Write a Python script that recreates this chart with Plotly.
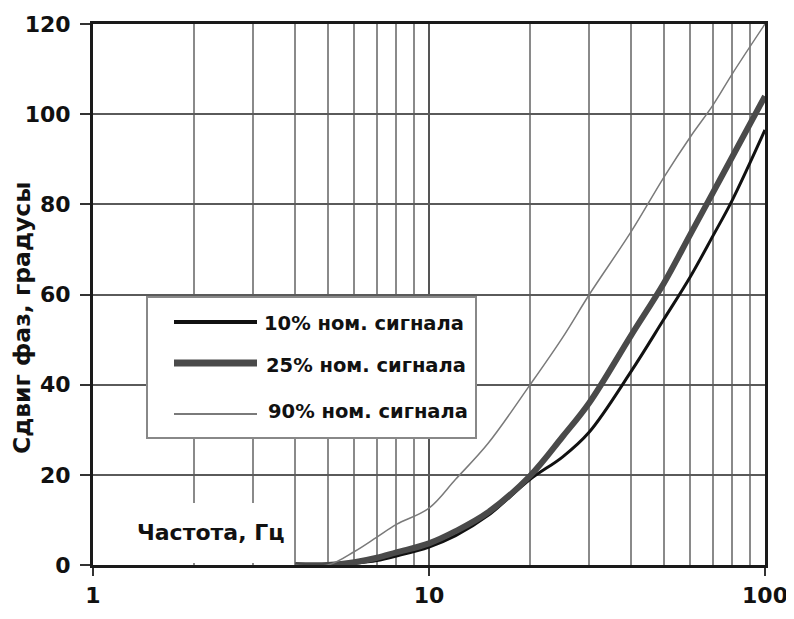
import plotly.graph_objects as go

# Data
freq = [4, 5, 6, 7, 8, 10, 12, 15, 20, 25, 30, 40, 50, 60, 70, 80, 100]
p10 = [0, 0, 0.4, 1.0, 2.0, 4.0, 6.5, 11, 19, 24, 29.5, 43, 54.5, 64, 73, 81, 96.5]
p25 = [0, 0, 0.6, 1.6, 2.8, 4.8, 7.5, 11.7, 19.8, 28.5, 36, 51, 62.5, 73.4, 82.6, 90.6, 104]
p90 = [0, 0, 3, 6.2, 9, 12.6, 19, 27, 40, 50.5, 60, 74, 86, 95, 102, 109, 120]

series_names = ["10% ном. сигнала", "25% ном. сигнала", "90% ном. сигнала"]
x_tickvals = [1, 10, 100]
x_ticktext = ["1", "10", "100"]
x_minor = [2, 3, 4, 5, 6, 7, 8, 9, 20, 30, 40, 50, 60, 70, 80, 90]
y_tickvals = [0, 20, 40, 60, 80, 100, 120]
x_title = "Частота, Гц"
y_title = "Сдвиг фаз, градусы"

FONT = "DejaVu Sans"
styles = [
    dict(color="#111111", width=3),
    dict(color="#4a4a4a", width=6),
    dict(color="#7a7a7a", width=1.5),
]
legend_widths = [4, 7, 2]

fig = go.Figure()
for name, vals, st in zip(series_names, [p10, p25, p90], styles):
    fig.add_trace(go.Scatter(x=freq, y=vals, mode="lines", name=name,
                             line=dict(color=st["color"], width=st["width"], shape="spline"),
                             showlegend=False))

# page body has an 8px margin: compensate so the plot lands where the reference has it
OFF = 8
W, H = 786, 603
L, T = 93 - OFF, 24 - OFF
R, B = W - (765 - OFF), H - (565 - OFF)
pw, ph = W - L - R, H - T - B


def px(xs):
    return (xs - OFF - L) / pw


def py(ys):
    return (H - B - (ys - OFF)) / ph


shapes = []
# white area under legend (where the axis title sits)
shapes.append(dict(type="rect", xref="paper", yref="paper", x0=px(96), x1=px(293),
                   y0=py(563), y1=py(503), fillcolor="white", line=dict(width=0), layer="above"))
# legend box
shapes.append(dict(type="rect", xref="paper", yref="paper", x0=px(147), x1=px(476),
                   y0=py(438), y1=py(297), fillcolor="white",
                   line=dict(color="#888888", width=2), layer="above"))
sample_y = [322, 363, 414]
text_y = [323, 365, 411]
text_x = [262, 264, 266]
annotations = []
for i, name in enumerate(series_names):
    st = styles[i]
    shapes.append(dict(type="line", xref="paper", yref="paper", x0=px(174), x1=px(257),
                       y0=py(sample_y[i]), y1=py(sample_y[i]),
                       line=dict(color=st["color"], width=legend_widths[i]),
                       layer="above"))
    annotations.append(dict(xref="paper", yref="paper", x=px(text_x[i]), y=py(text_y[i]),
                            text=name, showarrow=False, xanchor="left", yanchor="middle",
                            font=dict(family=FONT, size=19.5, color="#111111", weight="bold")))

annotations.append(dict(xref="paper", yref="paper", x=px(210), y=py(532), text=x_title,
                        showarrow=False, xanchor="center", yanchor="middle",
                        font=dict(family=FONT, size=22, color="#111111", weight="bold")))
annotations.append(dict(xref="paper", yref="paper", x=px(22), y=py(318), text=y_title,
                        showarrow=False, xanchor="center", yanchor="middle", textangle=-90,
                        font=dict(family=FONT, size=23.5, color="#111111", weight="bold")))

fig.update_layout(
    width=W, height=H,
    margin=dict(l=L, r=R, t=T, b=B, autoexpand=False),
    paper_bgcolor="white", plot_bgcolor="white",
    shapes=shapes, annotations=annotations,
    font=dict(family=FONT, color="#111111"),
)
fig.update_xaxes(
    type="log", range=[0, 2], automargin=False,
    tickmode="array", tickvals=x_tickvals, ticktext=x_ticktext,
    tickfont=dict(family=FONT, size=22, color="#111111", weight="bold"),
    ticks="outside", ticklen=8, tickwidth=2, tickcolor="#333333",
    ticklabelstandoff=1, ticklabeloverflow="allow",
    showgrid=True, gridcolor="#555555", gridwidth=2,
    minor=dict(tickmode="array", tickvals=x_minor, showgrid=True,
               gridcolor="#8a8a8a", gridwidth=1.5, ticks=""),
    showline=True, linecolor="#1a1a1a", linewidth=3, mirror=True,
    zeroline=False,
)
fig.update_yaxes(
    range=[0, 120], tickmode="array", tickvals=y_tickvals, automargin=False,
    tickfont=dict(family=FONT, size=22, color="#111111", weight="bold"),
    ticks="outside", ticklen=10, tickwidth=2, tickcolor="#333333",
    ticklabelstandoff=5, ticklabeloverflow="allow",
    showgrid=True, gridcolor="#5a5a5a", gridwidth=2,
    showline=True, linecolor="#1a1a1a", linewidth=3, mirror=True,
    zeroline=False,
)

fig.write_html("out.html")
